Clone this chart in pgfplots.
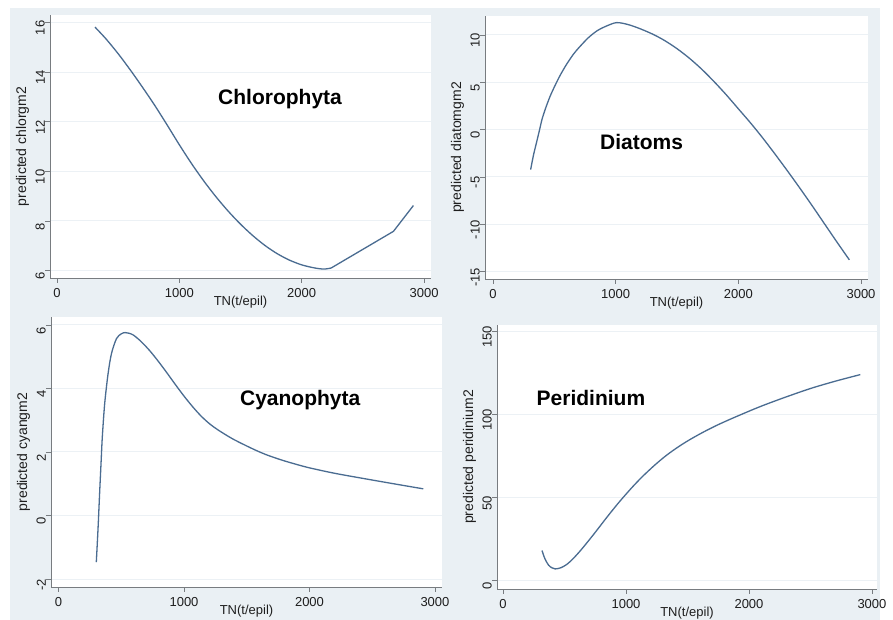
\documentclass[border=0pt]{standalone}
\usepackage{fontspec}
\setmainfont{Liberation Sans}
\usepackage{pgfplots}
\pgfplotsset{compat=1.18}

\definecolor{bgc}{RGB}{234,240,244}
\definecolor{gridc}{RGB}{236,241,245}
\definecolor{axc}{RGB}{120,124,128}
\definecolor{curve}{RGB}{74,108,145}
\definecolor{txt}{RGB}{30,30,30}

\tikzset{
  title node/.style={font=\fontsize{21}{25}\selectfont\bfseries, text=black},
  curvestyle/.style={curve, line width=1.3pt, line join=round},
}

\pgfplotsset{
  panel/.style={
    scale only axis,
    anchor=south west,
    axis x line*=bottom,
    axis y line*=left,
    axis line style={axc, line width=0.8pt, -},
    axis background/.style={fill=white},
    tick align=outside,
    major tick length=5pt,
    every tick/.style={axc, line width=0.8pt},
    ymajorgrids,
    major grid style={gridc, line width=1pt},
    xtick={0,1000,2000,3000},
    scaled ticks=false,
    /pgf/number format/1000 sep={},
    /pgf/number format/assume math mode=true,
    tick label style={font=\fontsize{13}{15}\selectfont, text=txt, inner sep=0pt},
    xticklabel style={anchor=north, yshift=-5pt},
    yticklabel style={rotate=90, anchor=south, xshift=-5.5pt},
    xlabel={TN(t/epil)},
    every axis x label/.style={at={([yshift=-24pt]axis description cs:0.5,0)}, anchor=center,
      font=\fontsize{13}{15}\selectfont, text=txt},
    every axis y label/.style={at={([xshift=-27.5pt]axis description cs:0,0.5)}, rotate=90, anchor=center,
      font=\fontsize{14}{16}\selectfont, text=txt},
    clip=false,
  },
}

\begin{document}
\begin{tikzpicture}
\useasboundingbox (0pt,0pt) rectangle (893pt,620pt);
\fill[bgc] (10pt,0pt) rectangle (880pt,612pt);

% Chlorophyta
\begin{axis}[panel, at={(50pt,342pt)}, width=381pt, height=263pt,
  xmin=-57, xmax=3057, ymin=5.70, ymax=16.30,
  ytick={6,8,10,12,14,16}, ylabel={predicted chlorgm2}]
\addplot[curvestyle, no markers, smooth, tension=0.5] coordinates {
 (311,15.81) (400,15.34) (500,14.74) (600,14.08) (700,13.38) (800,12.65)
 (900,11.87) (1000,11.07) (1100,10.31) (1200,9.61) (1300,8.97) (1400,8.39)
 (1500,7.87) (1600,7.41) (1700,7.01) (1800,6.68) (1900,6.42) (2000,6.23)
 (2100,6.11) (2180,6.06) (2240,6.10)};
\addplot[curvestyle, no markers] coordinates {
 (2240,6.10) (2750,7.58) (2913,8.62)};
\node[title node] at (axis cs:1823,12.9) {Chlorophyta};
\end{axis}

% Diatoms
\begin{axis}[panel, at={(485pt,341pt)}, width=383pt, height=263pt,
  xmin=-65, xmax=3057, ymin=-15.77, ymax=12.0,
  ytick={-15,-10,-5,0,5,10}, ylabel={predicted diatomgm2}]
\addplot[curvestyle, no markers, smooth, tension=0.5] coordinates {
 (307,-4.22) (330,-2.7) (356,-1.3) (380,0.0) (400,1.1) (430,2.3) (465,3.5)
 (500,4.5) (546,5.7) (600,6.9) (655,7.95) (700,8.65) (777,9.7) (850,10.45)
 (927,10.95) (1008,11.3) (1100,11.1) (1200,10.65) (1307,10.05) (1400,9.4)
 (1500,8.55) (1600,7.55) (1700,6.4) (1800,5.1) (1900,3.7) (2000,2.2)
 (2100,0.7) (2200,-0.9) (2300,-2.6) (2400,-4.35) (2500,-6.15) (2600,-8.0)
 (2700,-9.9) (2800,-11.8) (2905,-13.75)};
\node[title node] at (axis cs:1212,-1.34) {Diatoms};
\end{axis}

% Cyanophyta
\begin{axis}[panel, at={(51pt,33pt)}, width=391pt, height=270pt,
  xmin=-60, xmax=3056, ymin=-2.25, ymax=6.25,
  ytick={-2,0,2,4,6}, ylabel={predicted cyangm2}]
\addplot[curvestyle, no markers, smooth, tension=0.5] coordinates {
 (301,-1.47) (315,-0.4) (328,0.75) (340,1.75) (349,2.48) (368,3.53) (395,4.47)
 (422,5.10) (462,5.57) (500,5.72) (530,5.76) (560,5.74) (597,5.68) (660,5.47)
 (731,5.17) (800,4.83) (866,4.48) (930,4.13) (1000,3.76) (1070,3.42)
 (1134,3.14) (1200,2.90) (1269,2.70) (1380,2.43) (1484,2.22) (1580,2.04)
 (1672,1.89) (1800,1.72) (1941,1.56) (2000,1.50) (2200,1.33) (2453,1.15)
 (2700,0.98) (2907,0.84)};
\node[title node] at (axis cs:1926,3.64) {Cyanophyta};
\end{axis}

% Peridinium
\begin{axis}[panel, at={(497pt,31pt)}, width=380pt, height=264pt,
  xmin=-49, xmax=3041, ymin=-5.1, ymax=154.0,
  ytick={0,50,100,150}, ylabel={predicted peridinium2}]
\addplot[curvestyle, no markers, smooth, tension=0.5] coordinates {
 (317,18.1) (340,13.2) (371,9.2) (400,7.6) (425,7.0) (470,7.7) (520,9.8)
 (570,13.2) (629,18.0) (700,24.4) (764,30.4) (820,35.8) (873,40.8)
 (940,46.9) (1003,52.3) (1070,57.8) (1144,63.4) (1240,70.0) (1333,75.7)
 (1430,80.8) (1523,85.1) (1630,89.5) (1740,93.6) (1850,97.3) (1957,100.7)
 (2050,103.6) (2146,106.4) (2300,110.6) (2499,115.7) (2700,120.1)
 (2905,124.1)};
\node[title node] at (axis cs:715,110) {Peridinium};
\end{axis}
\end{tikzpicture}
\end{document}
